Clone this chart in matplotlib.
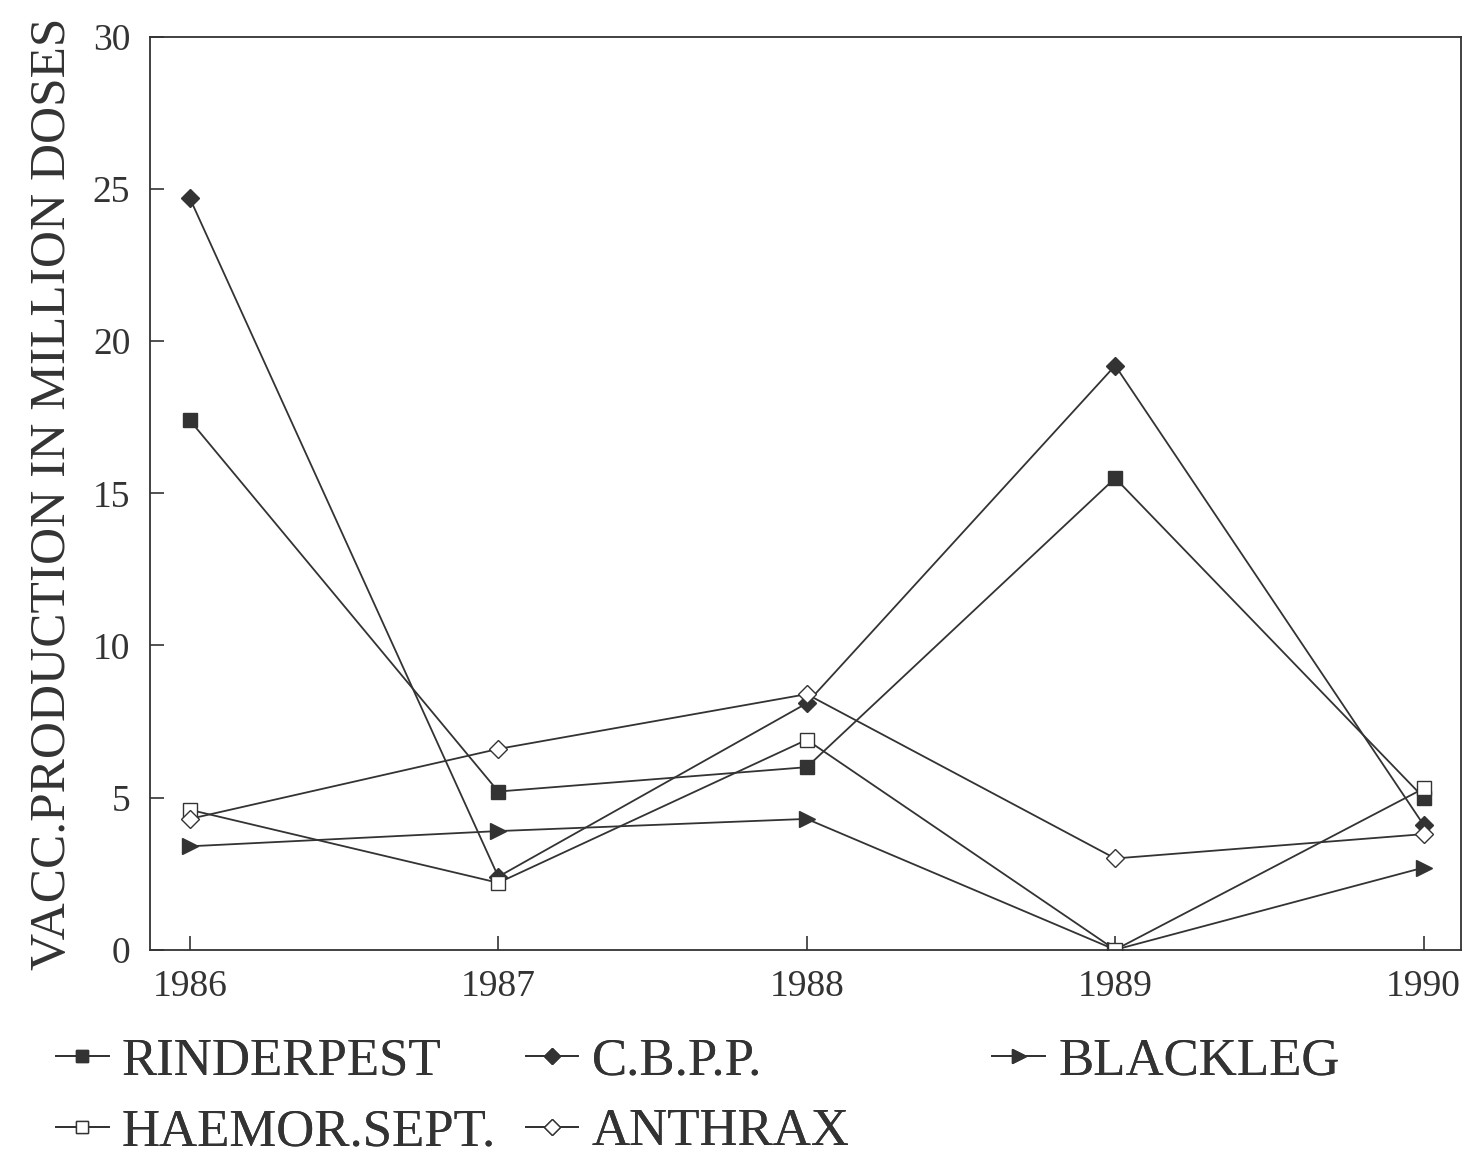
import matplotlib.pyplot as plt

years = [1986, 1987, 1988, 1989, 1990]
rinderpest = [17.4, 5.2, 6.0, 15.5, 5.0]
cbpp = [24.7, 2.4, 8.1, 19.2, 4.1]
blackleg = [3.4, 3.9, 4.3, 0.0, 2.7]
haemor_sept = [4.6, 2.2, 6.9, 0.0, 5.3]
anthrax = [4.3, 6.6, 8.4, 3.0, 3.8]

plt.rcParams['font.family'] = ['Liberation Serif', 'DejaVu Serif']
ink = '#333333'

fig = plt.figure(figsize=(14.68, 11.54), dpi=100)
ax = fig.add_axes([0.102, 0.177, 0.893, 0.791])

h1, = ax.plot(years, rinderpest, color=ink, lw=1.3, marker='s', ms=10,
              mfc=ink, mec=ink, label='RINDERPEST')
h2, = ax.plot(years, cbpp, color=ink, lw=1.3, marker='D', ms=9,
              mfc=ink, mec=ink, label='C.B.P.P.')
h3, = ax.plot(years, blackleg, color=ink, lw=1.3, marker='>', ms=12,
              mfc=ink, mec=ink, label='BLACKLEG')
h4, = ax.plot(years, haemor_sept, color=ink, lw=1.3, marker='s', ms=10,
              mfc='white', mec=ink, label='HAEMOR.SEPT.')
h5, = ax.plot(years, anthrax, color=ink, lw=1.3, marker='D', ms=9,
              mfc='white', mec=ink, label='ANTHRAX')

ax.set_xlim(1985.87, 1990.12)
ax.set_ylim(0, 30)
ax.set_xticks(years)
ax.set_yticks([0, 5, 10, 15, 20, 25, 30])
ax.tick_params(direction='in', length=10, width=1.2, colors=ink,
               labelsize=27, pad=14)
for s in ax.spines.values():
    s.set_color(ink)
    s.set_linewidth(1.3)

ax.set_ylabel('VACC.PRODUCTION IN MILLION DOSES', fontsize=37, color=ink,
              labelpad=12)

# legend in three separately placed columns, as in the original
columns = [([h1, h4], 0.038), ([h2, h5], 0.358), ([h3], 0.676)]
for handles, x0 in columns:
    leg = fig.legend(handles=handles, loc='upper left',
                     bbox_to_anchor=(x0, 0.101), frameon=False, fontsize=38,
                     handlelength=1.0, handletextpad=0.25, borderpad=0,
                     borderaxespad=0, labelspacing=0.43, markerscale=0.85,
                     labelcolor=ink)
    fig.add_artist(leg)

fig.savefig('out.png', dpi=100)
